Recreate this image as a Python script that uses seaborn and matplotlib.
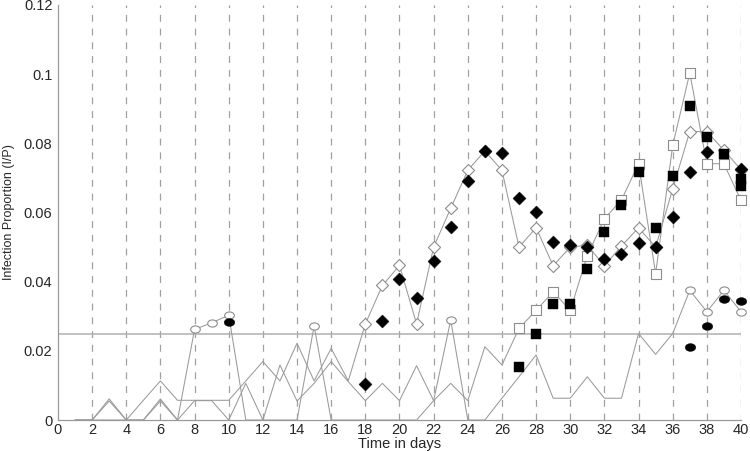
import numpy as np
import pandas as pd
import matplotlib
matplotlib.use("Agg")
import matplotlib.pyplot as plt
import seaborn as sns
from matplotlib.path import Path
from matplotlib.ticker import FuncFormatter

# ---------------- data ----------------
days = list(range(1, 41))

diamond_line = [0, 0, 0, 0, 0.0057, 0.0113, 0.0057, 0.0057, 0.0057, 0.0057,
                0.0113, 0.0169, 0.0113, 0.0222, 0.0113, 0.0207, 0.0113, 0.0278, 0.0389, 0.0447,
                0.0278, 0.0500, 0.0612, 0.0722, 0.0778, 0.0722, 0.0500, 0.0556, 0.0446, 0.0500,
                0.0505, 0.0446, 0.0503, 0.0556, 0.0500, 0.0668, 0.0834, 0.0834, 0.0780, 0.0724]

square_line = [0, 0, 0.0055, 0, 0, 0.0055, 0, 0.0056, 0.0056, 0,
               0.0106, 0, 0.0159, 0.0055, 0.0106, 0.0169, 0.0111, 0.0056, 0.0106, 0.0056,
               0.0157, 0.0056, 0.0106, 0.0056, 0.0212, 0.0159, 0.0265, 0.0317, 0.0371, 0.0317,
               0.0475, 0.0582, 0.0636, 0.0741, 0.0423, 0.0794, 0.1003, 0.0741, 0.0741, 0.0635]

circle_line = [0, 0, 0.0061, 0, 0, 0.0061, 0, 0.0262, 0.0281, 0.0303,
               0, 0, 0, 0, 0.0272, 0, 0, 0, 0, 0,
               0, 0.0056, 0.0289, 0, 0, 0.0063, 0.0125, 0.0188, 0.0063, 0.0063,
               0.0125, 0.0063, 0.0063, 0.0250, 0.0190, 0.0250, 0.0375, 0.0313, 0.0375, 0.0313]

threshold = 0.025

filled_diamond_days = [18, 19, 20, 21, 22, 23, 24, 25, 26, 27, 28, 29, 30, 31, 32, 33, 34, 35,
                       36, 37, 38, 40]
filled_diamond_vals = [0.0104, 0.0287, 0.0407, 0.0352, 0.0460, 0.0559, 0.0692, 0.0778, 0.0773,
                       0.0641, 0.0600, 0.0516, 0.0506, 0.0501, 0.0465, 0.0480, 0.0513, 0.0499,
                       0.0588, 0.0718, 0.0775, 0.0725]

filled_square_days = [27, 28, 29, 30, 31, 32, 33, 34, 35, 36, 37, 38, 39, 40, 40]
filled_square_vals = [0.0152, 0.0250, 0.0335, 0.0335, 0.0436, 0.0544, 0.0621, 0.0718, 0.0554,
                      0.0705, 0.0908, 0.0819, 0.0769, 0.0697, 0.0678]

filled_circle_days = [10, 37, 38, 39, 40]
filled_circle_vals = [0.0282, 0.0212, 0.0273, 0.0350, 0.0345]

x_ticks = list(range(0, 41, 2))
y_ticks = [0, 0.02, 0.04, 0.06, 0.08, 0.1, 0.12]
x_label = "Time in days"
y_label = "Infection Proportion (I/P)"

# ---------------- build frames ----------------
series = {"diamond": diamond_line, "square": square_line, "circle": circle_line}
lines_df = pd.concat([pd.DataFrame({"day": days, "value": v, "series": k})
                      for k, v in series.items()], ignore_index=True)
open_df = lines_df[lines_df["value"] > threshold]

# ---------------- style ----------------
sns.set_style("white")
plt.rcParams["font.family"] = ["Liberation Sans", "DejaVu Sans"]

fig = plt.figure(figsize=(7.5, 4.51), dpi=100)
ax = fig.add_axes([0.0773, 0.0687, 0.9107, 0.9203])

line_grey = "#9a9a9a"
edge_grey = "#8c8c8c"

# vertical dashed guides
for xv in x_ticks[1:]:
    ax.axvline(xv, color="#a0a0a0", lw=0.9, ls=(0, (5.5, 5.5)), zorder=0)
ax.axhline(threshold, color="#b0b0b0", lw=1.1, zorder=0.5)

sns.lineplot(data=lines_df, x="day", y="value", units="series", estimator=None,
             color=line_grey, lw=0.75, ax=ax, legend=False, zorder=1)

circ = Path.unit_circle()
ellipse = Path(circ.vertices * np.array([1.35, 1.0]), circ.codes)

open_markers = {"diamond": ("D", 38), "square": ("s", 60), "circle": (ellipse, 48)}
for name, (mk, sz) in open_markers.items():
    sub = open_df[open_df["series"] == name]
    sns.scatterplot(data=sub, x="day", y="value", marker=mk, s=sz, facecolor="white",
                    edgecolor=edge_grey, linewidth=0.8, ax=ax, legend=False, zorder=3,
                    clip_on=False)

fd = pd.DataFrame({"day": filled_diamond_days, "value": filled_diamond_vals})
fs = pd.DataFrame({"day": filled_square_days, "value": filled_square_vals})
fc = pd.DataFrame({"day": filled_circle_days, "value": filled_circle_vals})
sns.scatterplot(data=fd, x="day", y="value", marker="D", s=44, color="black",
                edgecolor="black", linewidth=0.3, ax=ax, legend=False, zorder=4, clip_on=False)
sns.scatterplot(data=fs, x="day", y="value", marker="s", s=56, color="black",
                edgecolor="black", linewidth=0.3, ax=ax, legend=False, zorder=4, clip_on=False)
sns.scatterplot(data=fc, x="day", y="value", marker=ellipse, s=58, color="black",
                edgecolor="black", linewidth=0.3, ax=ax, legend=False, zorder=4, clip_on=False)

ax.set_xlim(0, 40)
ax.set_ylim(0, 0.12)
ax.set_xticks(x_ticks)
ax.set_yticks(y_ticks)
ax.yaxis.set_major_formatter(FuncFormatter(lambda v, p: "0" if v == 0 else f"{v:g}"))
ax.tick_params(axis="x", length=0, labelsize=10.5, pad=2)
ax.tick_params(axis="y", direction="in", length=4, color="#999999", labelsize=10.5, pad=4)
ax.set_xlabel(x_label, fontsize=10.5, labelpad=0)
ax.set_ylabel(y_label, fontsize=9, labelpad=6)

for s in ["top", "right"]:
    ax.spines[s].set_visible(False)
for s in ["left", "bottom"]:
    ax.spines[s].set_color("#999999")
    ax.spines[s].set_linewidth(0.9)

fig.savefig("out.png", dpi=100, facecolor="white")
